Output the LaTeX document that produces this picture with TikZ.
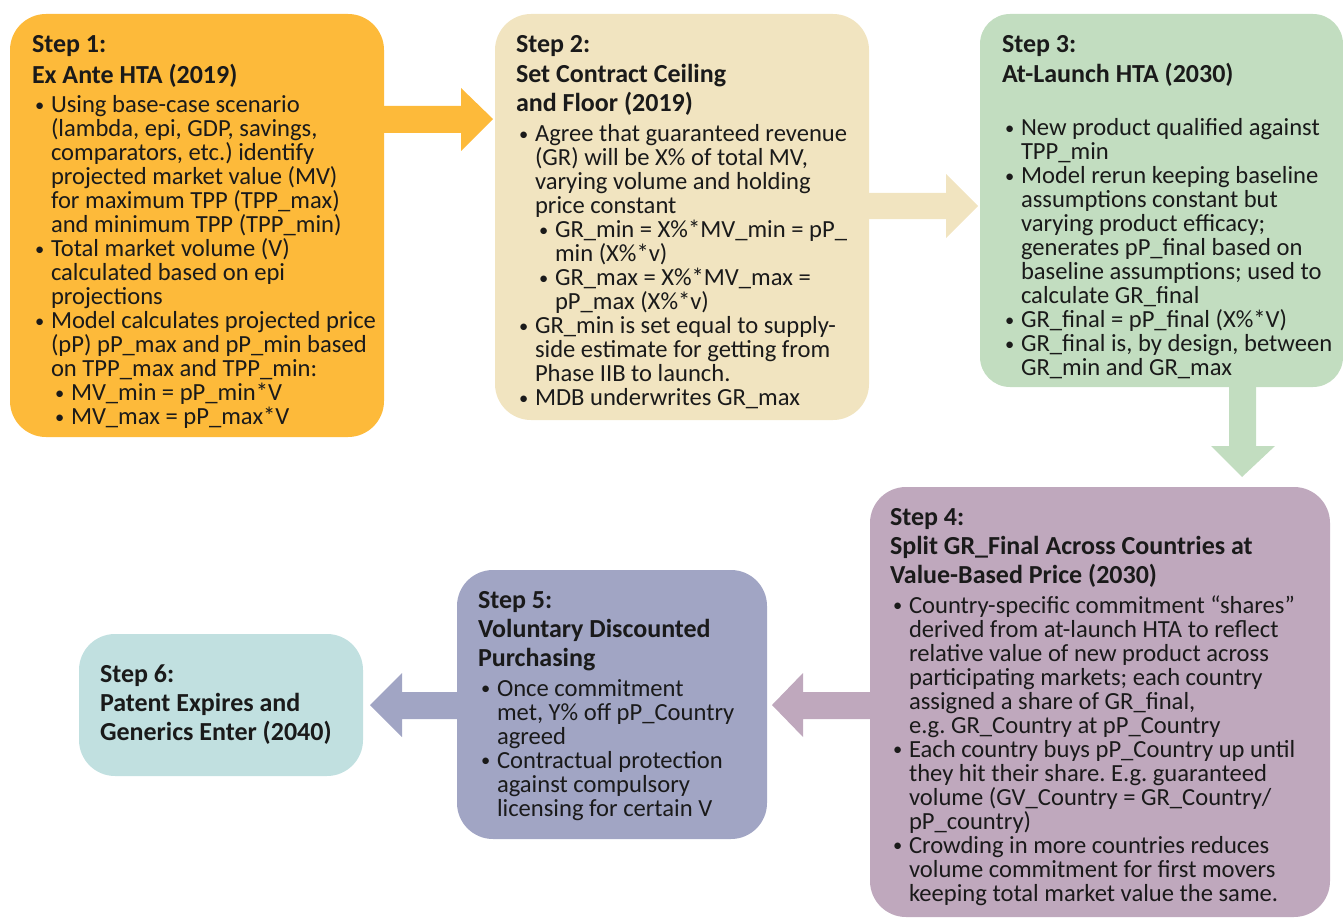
\documentclass[tikz,border=0pt]{standalone}
\usepackage{fontspec}
\setmainfont{Carlito}
\usetikzlibrary{calc}
\definecolor{cA}{HTML}{FDBA3A}
\definecolor{cB}{HTML}{F1E4C0}
\definecolor{cC}{HTML}{C2DDC0}
\definecolor{cD}{HTML}{BFA8BD}
\definecolor{cE}{HTML}{A1A5C4}
\definecolor{cF}{HTML}{C1E0E0}
\definecolor{ink}{HTML}{1A1A1A}
\newcommand\dotb{\raisebox{1.5pt}{\scalebox{0.75}{\textbullet}}}
\newcommand\bi{\makebox[19pt][l]{\hspace{3pt}\dotb}}
\newcommand\ci{\hspace*{19pt}}
\newcommand\bii{\hspace*{19pt}\makebox[20pt][l]{\hspace{4pt}\dotb}}
\newcommand\cii{\hspace*{39pt}}
\newcommand\ttl[1]{{\fontsize{26}{24}\selectfont\bfseries #1}}
\newenvironment{lines}{\begin{minipage}[t]{480pt}\raggedright\parindent=0pt\frenchspacing
  \lineskiplimit=-100pt\lineskip=0pt\baselineskip=24pt}{\end{minipage}}
\begin{document}
\begin{tikzpicture}[x=1pt,y=-1pt,
  stepbox/.style={rounded corners=36pt, anchor=north west, inner sep=0pt, outer sep=0pt, draw=none},
  txt/.style={anchor=base west, inner sep=0pt, outer sep=0pt, text=ink,
    font=\fontsize{24.6}{24}\selectfont}]
\useasboundingbox (0,0) rectangle (1343,920);
% boxes
\node[stepbox, fill=cA, minimum width=374pt, minimum height=423pt] (b1) at (10,14) {};
\node[stepbox, fill=cB, minimum width=374pt, minimum height=406pt] (b2) at (495,14) {};
\node[stepbox, fill=cC, minimum width=363pt, minimum height=373pt, rounded corners=30pt] (b3) at (980,14) {};
\node[stepbox, fill=cD, minimum width=460pt, minimum height=430pt] (b4) at (870,487) {};
\node[stepbox, fill=cE, minimum width=310pt, minimum height=269pt] (b5) at (457,570) {};
\node[stepbox, fill=cF, minimum width=284pt, minimum height=142pt] (b6) at (79,634) {};
% arrows
\fill[cA] ($(b1.east |- 0,106)+(-1,0)$) -- (461,106) -- (461,88) -- ($(b2.west |- 0,119)+(-2,0)$)
  -- (461,151) -- (461,133) -- ($(b1.east |- 0,133)+(-1,0)$) -- cycle;
\fill[cB] ($(b2.east |- 0,193)+(-1,0)$) -- (946,193) -- (946,174) -- ($(b3.west |- 0,206)+(-2,0)$)
  -- (946,238) -- (946,219) -- ($(b2.east |- 0,219)+(-1,0)$) -- cycle;
\fill[cC] ($(1229,0 |- b3.south)+(0,-1)$) -- (1229,446) -- (1211,446) -- ($(1242,0 |- b4.north)+(0,-10)$)
  -- (1275,446) -- (1256,446) -- ($(1256,0 |- b3.south)+(0,-1)$) -- cycle;
\fill[cD] ($(b4.west |- 0,692)+(1,0)$) -- (803,692) -- (803,673) -- ($(b5.east |- 0,705)+(5,0)$)
  -- (803,737) -- (803,719) -- ($(b4.west |- 0,719)+(1,0)$) -- cycle;
\fill[cE] ($(b5.west |- 0,692)+(1,0)$) -- (402,692) -- (402,673) -- ($(b6.east |- 0,705)+(7,0)$)
  -- (402,737) -- (402,719) -- ($(b5.west |- 0,719)+(1,0)$) -- cycle;
% texts
\node[txt] (t1) at (32,53) {\begin{lines}
\ttl{Step 1:}\\[7pt]
\ttl{Ex Ante HTA (2019)}\\[5pt]
\bi Using base-case scenario\\
\ci (lambda, epi, GDP, savings,\\
\ci comparators, etc.) identify\\
\ci projected market value (MV)\\
\ci for maximum TPP (TPP\_max)\\
\ci and minimum TPP (TPP\_min)\\
\bi Total market volume (V)\\
\ci calculated based on epi\\
\ci projections\\
\bi Model calculates projected price\\
\ci (pP) pP\_max and pP\_min based\\
\ci on TPP\_max and TPP\_min:\\
\bii MV\_min = pP\_min*V\\
\bii MV\_max = pP\_max*V
\end{lines}};
\node[txt] (t2) at (516,53) {\begin{lines}
\ttl{Step 2:}\\[6pt]
\ttl{Set Contract Ceiling}\\[5pt]
\ttl{and Floor (2019)}\\[6pt]
\bi Agree that guaranteed revenue\\
\ci (GR) will be X\% of total MV,\\
\ci varying volume and holding\\
\ci price constant\\
\bii GR\_min = X\%*MV\_min = pP\_\\
\cii min (X\%*v)\\
\bii GR\_max = X\%*MV\_max =\\
\cii pP\_max (X\%*v)\\
\bi GR\_min is set equal to supply-\\
\ci side estimate for getting from\\
\ci Phase IIB to launch.\\
\bi MDB underwrites GR\_max
\end{lines}};
\node[txt] (t3) at (1002,53) {\begin{lines}
\ttl{Step 3:}\\[6pt]
\ttl{At-Launch HTA (2030)}\\[29pt]
\bi New product qualified against\\
\ci TPP\_min\\
\bi Model rerun keeping baseline\\
\ci assumptions constant but\\
\ci varying product efficacy;\\
\ci generates pP\_final based on\\
\ci baseline assumptions; used to\\
\ci calculate GR\_final\\
\bi GR\_final = pP\_final (X\%*V)\\
\bi GR\_final is, by design, between\\
\ci GR\_min and GR\_max
\end{lines}};
\node[txt] (t4) at (890,525) {\begin{lines}
\ttl{Step 4:}\\[5pt]
\ttl{Split GR\_Final Across Countries at}\\[5pt]
\ttl{Value-Based Price (2030)}\\[6pt]
\bi Country-specific commitment “shares”\\
\ci derived from at-launch HTA to reflect\\
\ci relative value of new product across\\
\ci participating markets; each country\\
\ci assigned a share of GR\_final,\\
\ci e.g. GR\_Country at pP\_Country\\
\bi Each country buys pP\_Country up until\\
\ci they hit their share. E.g. guaranteed\\
\ci volume (GV\_Country = GR\_Country/\\
\ci pP\_country)\\
\bi Crowding in more countries reduces\\
\ci volume commitment for first movers\\
\ci keeping total market value the same.
\end{lines}};
\node[txt] (t5) at (478,608) {\begin{lines}
\ttl{Step 5:}\\[5pt]
\ttl{Voluntary Discounted}\\[5pt]
\ttl{Purchasing}\\[6pt]
\bi Once commitment\\
\ci met, Y\% off pP\_Country\\
\ci agreed\\
\bi Contractual protection\\
\ci against compulsory\\
\ci licensing for certain V
\end{lines}};
\node[txt] (t6) at (100,682) {\begin{lines}
\ttl{Step 6:}\\[5pt]
\ttl{Patent Expires and}\\[5pt]
\ttl{Generics Enter (2040)}
\end{lines}};
\end{tikzpicture}
\end{document}
